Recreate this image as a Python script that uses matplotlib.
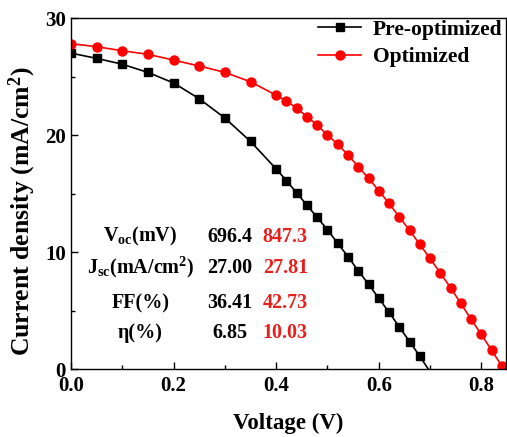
import matplotlib
matplotlib.use("Agg")
import matplotlib.pyplot as plt
from matplotlib.ticker import MultipleLocator

plt.rcParams['font.family'] = ['Liberation Serif', 'DejaVu Serif']
plt.rcParams['font.weight'] = 'bold'
plt.rcParams['mathtext.fontset'] = 'custom'
plt.rcParams['mathtext.rm'] = 'Liberation Serif:bold'
plt.rcParams['mathtext.it'] = 'Liberation Serif:italic:bold'
plt.rcParams['mathtext.bf'] = 'Liberation Serif:bold'
plt.rcParams['mathtext.default'] = 'rm'

# Data
v_pre = [0.0, 0.05, 0.10, 0.15, 0.20, 0.25, 0.30, 0.35, 0.40, 0.42, 0.44, 0.46,
         0.48, 0.50, 0.52, 0.54, 0.56, 0.58, 0.60, 0.62, 0.64, 0.66, 0.68, 0.6964]
j_pre = [27.0, 26.55, 26.05, 25.35, 24.45, 23.1, 21.45, 19.45, 17.1, 16.1, 15.05, 14.0,
         12.95, 11.9, 10.75, 9.6, 8.4, 7.25, 6.05, 4.85, 3.6, 2.35, 1.1, 0.0]

v_opt = [0.0, 0.05, 0.10, 0.15, 0.20, 0.25, 0.30, 0.35, 0.40, 0.42, 0.44, 0.46,
         0.48, 0.50, 0.52, 0.54, 0.56, 0.58, 0.60, 0.62, 0.64, 0.66, 0.68, 0.70,
         0.72, 0.74, 0.76, 0.78, 0.80, 0.82, 0.84]
j_opt = [27.8, 27.55, 27.2, 26.9, 26.4, 25.9, 25.35, 24.55, 23.4, 22.9, 22.3, 21.55,
         20.85, 20.0, 19.2, 18.3, 17.3, 16.3, 15.25, 14.15, 13.0, 11.85, 10.65, 9.45,
         8.2, 6.95, 5.6, 4.25, 2.95, 1.6, 0.25]

series_names = ['Pre-optimized', 'Optimized']
param_labels = ['V$_{oc}$(mV)', 'J$_{sc}$(mA/cm$^{2}$)', 'FF(%)', 'η(%)']
pre_params = ['696.4', '27.00', '36.41', '6.85']
opt_params = ['847.3', '27.81', '42.73', '10.03']

fig = plt.figure(figsize=(5.07, 4.37), dpi=100)
ax = fig.add_axes([0.140, 0.1556, 0.858, 0.8032])

ax.plot(v_pre, j_pre, color='black', lw=1.2, marker='s', markersize=5.8,
        markevery=list(range(len(v_pre) - 1)), label=series_names[0])
ax.plot(v_opt, j_opt, color='#ff0000', lw=1.2, marker='o', markersize=6.5,
        label=series_names[1])

ax.set_xlim(0, 0.848)
ax.set_ylim(0, 30)
ax.xaxis.set_major_locator(MultipleLocator(0.2))
ax.xaxis.set_minor_locator(MultipleLocator(0.1))
ax.yaxis.set_major_locator(MultipleLocator(10))
ax.yaxis.set_minor_locator(MultipleLocator(5))
ax.tick_params(which='both', direction='in', labelsize=15, width=1)
ax.tick_params(which='major', length=5)
ax.tick_params(which='minor', length=3)
ax.tick_params(axis='x', pad=5)
ax.xaxis.set_major_formatter(matplotlib.ticker.FormatStrFormatter('%.1f'))
for s in ax.spines.values():
    s.set_linewidth(1.0)

ax.set_xlabel('Voltage (V)', fontsize=16.5, fontweight='bold', labelpad=12)
ax.set_ylabel('Current density (mA/cm$^{2}$)', fontsize=18.5, fontweight='bold')
ax.yaxis.set_label_coords(-0.076, 0.45)

leg = ax.legend(loc='upper right', bbox_to_anchor=(1.012, 1.02), frameon=False,
                fontsize=15.5, handlelength=2.0, handletextpad=0.55, labelspacing=0.35,
                borderaxespad=0.0)

ys = [11.3, 8.65, 5.6, 3.1]
for lab, a, b, y in zip(param_labels, pre_params, opt_params, ys):
    ax.text(0.135, y, lab, ha='center', va='center', fontsize=14.5, fontweight='bold')
    ax.text(0.31, y, a, ha='center', va='center', fontsize=14.5, fontweight='bold')
    ax.text(0.418, y, b, ha='center', va='center', fontsize=14.5, fontweight='bold',
            color='#e8201c')

fig.savefig('out.png', dpi=100)
